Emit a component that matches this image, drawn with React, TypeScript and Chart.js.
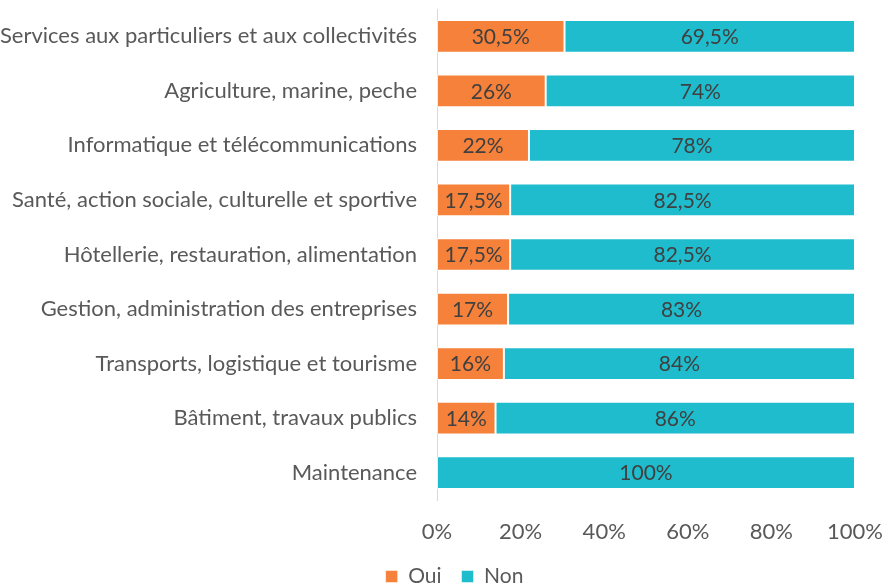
import React, { useEffect, useRef } from "react";
import { Chart, registerables } from "chart.js";

Chart.register(...registerables);

const categories = [
  "Services aux particuliers et aux collectivités",
  "Agriculture, marine, peche",
  "Informatique et télécommunications",
  "Santé, action sociale, culturelle et sportive",
  "Hôtellerie, restauration, alimentation",
  "Gestion, administration des entreprises",
  "Transports, logistique et tourisme",
  "Bâtiment, travaux publics",
  "Maintenance",
];
const ouiValues = [30.5, 26, 22, 17.5, 17.5, 17, 16, 14, 0];
const nonValues = [69.5, 74, 78, 82.5, 82.5, 83, 84, 86, 100];
const xTicks = [0, 20, 40, 60, 80, 100];

const FONT = "Lato, 'Liberation Sans', sans-serif";
const FS = 21;
const AXIS_FS = 22;

const fmt = (v: number) => String(v).replace(".", ",") + "%";

const labelPlugin = {
  id: "barLabels",
  afterDatasetsDraw(chart: any) {
    const ctx = chart.ctx;
    ctx.save();
    ctx.font = `${FS}px ${FONT}`;
    ctx.fillStyle = "#404040";
    ctx.textAlign = "center";
    ctx.textBaseline = "middle";
    chart.data.datasets.forEach((ds: any, di: number) => {
      const meta = chart.getDatasetMeta(di);
      meta.data.forEach((bar: any, i: number) => {
        const v = ds.data[i];
        if (!v) return;
        const x = (bar.x + bar.base) / 2;
        ctx.fillText(fmt(v), x, bar.y + 1);
      });
    });
    ctx.restore();
  },
};

const legendShift = {
  id: "legendShift",
  afterLayout(chart: any) {
    const lg = chart.legend;
    if (lg) {
      lg.left += 27;
      lg.right += 27;
      lg.top -= 4;
      lg.bottom -= 4;
    }
  },
};

export default function App() {
  const ref = useRef<HTMLCanvasElement>(null);
  useEffect(() => {
    if (!ref.current) return;
    const chart = new Chart(ref.current, {
      type: "bar",
      data: {
        labels: categories,
        datasets: [
          {
            label: "Oui",
            data: ouiValues,
            backgroundColor: "#F5813A",
            borderColor: "rgba(255,255,255,0.5)",
            borderWidth: 1,
            borderSkipped: false,
            barPercentage: 0.6,
            categoryPercentage: 1,
          },
          {
            label: "Non",
            data: nonValues,
            backgroundColor: "#1EBCCD",
            borderColor: "rgba(255,255,255,0.5)",
            borderWidth: 1,
            borderSkipped: false,
            barPercentage: 0.6,
            categoryPercentage: 1,
          },
        ],
      },
      options: {
        indexAxis: "y",
        responsive: false,
        animation: false,
        maintainAspectRatio: false,
        layout: { padding: { left: 0, right: 28, top: 9, bottom: -15 } },
        plugins: {
          legend: {
            position: "bottom",
            labels: {
              boxWidth: 12,
              boxHeight: 12,
              padding: 20,
              color: "#595959",
              font: { family: FONT, size: FS },
            },
          },
          tooltip: { enabled: false },
        },
        scales: {
          x: {
            stacked: true,
            min: 0,
            max: 100,
            afterBuildTicks: (s: any) => {
              s.ticks = xTicks.map((v) => ({ value: v }));
            },
            afterFit: (s: any) => {
              s.height = 50;
              s.paddingLeft = 0;
              s.paddingRight = 0;
            },
            grid: { display: false, drawTicks: false },
            border: { display: false },
            ticks: {
              padding: 19,
              color: "#595959",
              font: { family: FONT, size: AXIS_FS },
              callback: (v: any) => v + "%",
            },
          },
          y: {
            stacked: true,
            afterFit: (s: any) => {
              s.width = 437;
              s.paddingTop = 0;
              s.paddingBottom = 0;
            },
            grid: { display: false, drawTicks: false },
            border: { display: true, color: "#D9D9D9", width: 1 },
            ticks: {
              padding: 20,
              color: "#595959",
              font: { family: FONT, size: AXIS_FS },
            },
          },
        },
      },
      plugins: [labelPlugin, legendShift],
    });
    return () => chart.destroy();
  }, []);
  return (
    <div style={{ position: "fixed", left: 0, top: 0, width: 883, height: 586, background: "#fff" }}>
      <canvas ref={ref} width={883} height={586} style={{ width: 883, height: 586, display: "block" }} />
    </div>
  );
}
